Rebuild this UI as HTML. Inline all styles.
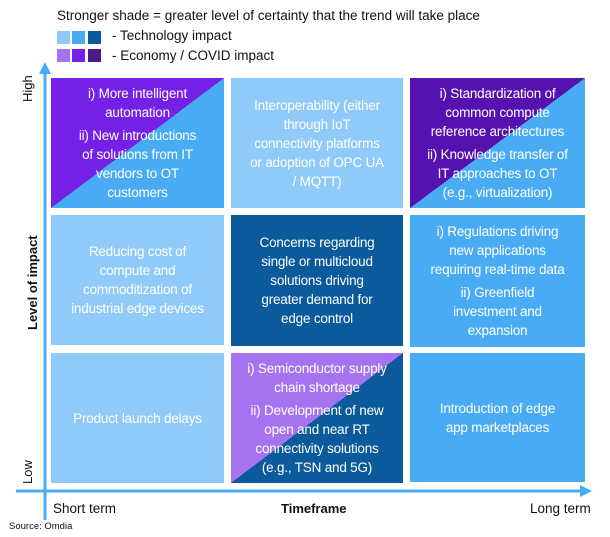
<!DOCTYPE html>
<html><head><meta charset="utf-8"><style>
body{margin:0;width:610px;height:537px;background:#fff;position:relative;overflow:hidden;font-family:"Liberation Sans",sans-serif}
.c{position:absolute;color:#fff;font-size:13.5px;line-height:19px;text-align:center;display:flex;flex-direction:column;justify-content:center;align-items:center;box-sizing:border-box;white-space:nowrap;letter-spacing:-0.2px}
.c p{margin:0 0 4px 0}.c p:last-child{margin:0}
.t{position:absolute;font-size:13.5px;color:#111;white-space:nowrap}
.sq{position:absolute;width:13px;height:13px}
</style></head><body>
<div class="t" style="left:57px;top:8px">Stronger shade = greater level of certainty that the trend will take place</div>
<div class="sq" style="left:57px;top:31px;background:#90CAF9"></div>
<div class="sq" style="left:72px;top:31px;background:#4AABF5"></div>
<div class="sq" style="left:88px;top:31px;background:#0A5A9C"></div>
<div class="sq" style="left:57px;top:49px;background:#A673F0"></div>
<div class="sq" style="left:72px;top:49px;background:#7420E6"></div>
<div class="sq" style="left:88px;top:49px;background:#4E1A8A"></div>
<div class="t" style="left:112px;top:28px">- Technology impact</div>
<div class="t" style="left:112px;top:48px">- Economy / COVID impact</div>

<div class="c" style="left:51px;top:78px;width:173px;height:130px;background:linear-gradient(to bottom right,#7420E6 50%,#4AABF5 50%)"><p>i) More intelligent<br>automation</p><p>ii) New introductions<br>of solutions from IT<br>vendors to OT<br>customers</p></div>
<div class="c" style="left:231px;top:78px;width:172px;height:130px;background:#90CAF9"><p>Interoperability (either<br>through IoT<br>connectivity platforms<br>or adoption of OPC UA<br>/ MQTT)</p></div>
<div class="c" style="left:410px;top:78px;width:175px;height:130px;background:linear-gradient(to bottom right,#5512B0 50%,#4AABF5 50%)"><p>i) Standardization of<br>common compute<br>reference architectures</p><p>ii) Knowledge transfer of<br>IT approaches to OT<br>(e.g., virtualization)</p></div>

<div class="c" style="left:51px;top:215px;width:173px;height:130px;background:#90CAF9"><p>Reducing cost of<br>compute and<br>commoditization of<br>industrial edge devices</p></div>
<div class="c" style="left:231px;top:215px;width:172px;height:131px;background:#0A5A9C"><p>Concerns regarding<br>single or multicloud<br>solutions driving<br>greater demand for<br>edge control</p></div>
<div class="c" style="left:410px;top:215px;width:175px;height:132px;background:#4AABF5"><p>i) Regulations driving<br>new applications<br>requiring real-time data</p><p>ii) Greenfield<br>investment and<br>expansion</p></div>

<div class="c" style="left:51px;top:353px;width:173px;height:130px;background:#90CAF9"><p>Product launch delays</p></div>
<div class="c" style="left:231px;top:353px;width:172px;height:130px;background:linear-gradient(to bottom right,#A673F0 50%,#0A5A9C 50%)"><p>i) Semiconductor supply<br>chain shortage</p><p>ii) Development of new<br>open and near RT<br>connectivity solutions<br>(e.g., TSN and 5G)</p></div>
<div class="c" style="left:410px;top:353px;width:175px;height:129px;background:#4AABF5"><p>Introduction of edge<br>app marketplaces</p></div>

<svg style="position:absolute;left:0;top:0" width="610" height="537">
<line x1="45" y1="72" x2="45" y2="520" stroke="#4AABF5" stroke-width="3"/>
<polygon points="45,62 39,74 51,74" fill="#4AABF5"/>
<line x1="16" y1="491" x2="582" y2="491" stroke="#4AABF5" stroke-width="3"/>
<polygon points="592,491 580,485 580,497" fill="#4AABF5"/>
<text x="0" y="0" transform="translate(32,102) rotate(-90)" font-family="Liberation Sans" font-size="13" fill="#111">High</text>
<text x="0" y="0" transform="translate(32,484) rotate(-90)" font-family="Liberation Sans" font-size="13" fill="#111">Low</text>
<text x="0" y="0" transform="translate(37,330) rotate(-90)" font-family="Liberation Sans" font-size="13" font-weight="bold" fill="#111">Level of impact</text>
</svg>
<div class="t" style="left:53px;top:501px">Short term</div>
<div class="t" style="left:281px;top:501px;font-weight:bold;font-size:13px">Timeframe</div>
<div class="t" style="left:530px;top:501px">Long term</div>
<div class="t" style="left:9px;top:521px;font-size:9.5px">Source: Omdia</div>
</body></html>
